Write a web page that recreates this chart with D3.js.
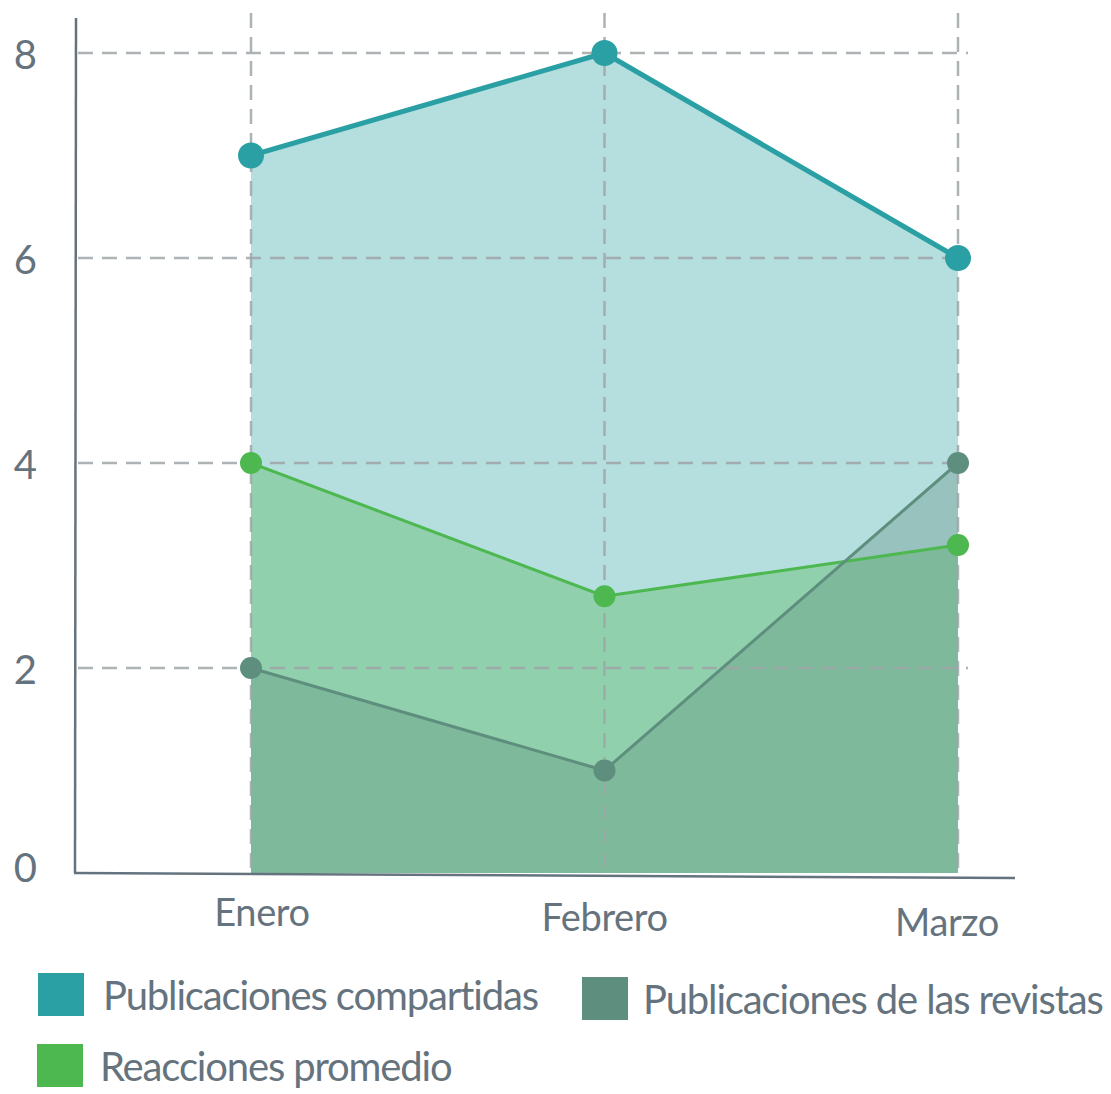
<!DOCTYPE html>
<html>
<head>
<meta charset="utf-8">
<script src="https://cdn.jsdelivr.net/npm/d3@7"></script>
<style>
  body { margin: 0; background: #fff; }
  text { font-family: Lato, "Open Sans", sans-serif; fill: #65737e; }
</style>
</head>
<body>
<div id="chart"></div>
<script>
// data
const months = ["Enero", "Febrero", "Marzo"];
const compartidas = [7, 8, 6];
const reacciones = [4, 2.7, 3.2];
const revistas = [2, 1, 4];
const yTicks = [0, 2, 4, 6, 8];

const series = [
  {name: "Publicaciones compartidas", values: compartidas, color: "#2aa0a4", lw: 5, r: 13},
  {name: "Reacciones promedio", values: reacciones, color: "#4cb84f", lw: 3, r: 11},
  {name: "Publicaciones de las revistas", values: revistas, color: "#5e8f7e", lw: 3, r: 11}
];

const W = 1111, H = 1094;
const svg = d3.select("#chart").append("svg").attr("width", W).attr("height", H);

// scales
const x = d3.scalePoint().domain(months).range([251, 958]);
const y = d3.scaleLinear().domain([0, 8]).range([873, 53]);

// areas
const area = d3.area().x((d, i) => x(months[i])).y0(y(0)).y1(d => y(d));
svg.append("g").selectAll("path").data(series).join("path")
   .attr("d", d => area(d.values)).attr("fill", d => d.color).attr("fill-opacity", 0.35);

// grid
const grid = svg.append("g").attr("stroke", "#9fa4a8").attr("stroke-opacity", 0.85)
                .attr("stroke-width", 2.5).attr("stroke-dasharray", "15,9");
grid.selectAll("line.h").data(yTicks.filter(t => t > 0)).join("line").attr("class", "h")
    .attr("x1", 78).attr("x2", 968).attr("y1", d => y(d)).attr("y2", d => y(d));
grid.selectAll("line.v").data(months).join("line").attr("class", "v")
    .attr("x1", d => x(d)).attr("x2", d => x(d)).attr("y1", 13).attr("y2", y(0) + 3);

// axes
svg.append("line").attr("x1", 76).attr("y1", 18).attr("x2", 75).attr("y2", y(0))
   .attr("stroke", "#65737e").attr("stroke-width", 2.5);
svg.append("line").attr("x1", 74).attr("y1", y(0)).attr("x2", 1015).attr("y2", y(0) + 5)
   .attr("stroke", "#65737e").attr("stroke-width", 2.5);

svg.append("g").selectAll("text").data(yTicks).join("text")
   .attr("x", 37).attr("y", (d, i) => y(d) + 2 - (i === 0 ? 7 : 0)).attr("dy", "0.36em").attr("text-anchor", "end")
   .style("font-size", "40px").text(d => d);

svg.append("g").selectAll("text").data(months).join("text")
   .attr("x", (d, i) => x(d) + 11 - i * 11).attr("y", (d, i) => 912 + i * 5).attr("dy", "0.36em")
   .attr("text-anchor", "middle").style("font-size", "38px").style("letter-spacing", "-0.4px").text(d => d);

// lines + dots
const line = d3.line().x((d, i) => x(months[i])).y(d => y(d));
series.forEach(s => {
  svg.append("path").attr("d", line(s.values)).attr("fill", "none")
     .attr("stroke", s.color).attr("stroke-width", s.lw);
  svg.append("g").selectAll("circle").data(s.values).join("circle")
     .attr("cx", (d, i) => x(months[i])).attr("cy", d => y(d)).attr("r", s.r).attr("fill", s.color);
});

// legend
const legend = [
  {s: series[0], x: 38, y: 973, dx: 65},
  {s: series[2], x: 582, y: 977, dx: 61},
  {s: series[1], x: 37, y: 1044, dx: 63}
];
const lg = svg.append("g").selectAll("g").data(legend).join("g")
              .attr("transform", d => `translate(${d.x},${d.y})`);
lg.append("rect").attr("width", 46).attr("height", 43).attr("fill", d => d.s.color);
lg.append("text").attr("x", d => d.dx).attr("y", 23).attr("dy", "0.36em")
  .style("font-size", "40px").style("letter-spacing", "-1.15px").text(d => d.s.name);
</script>
</body>
</html>
